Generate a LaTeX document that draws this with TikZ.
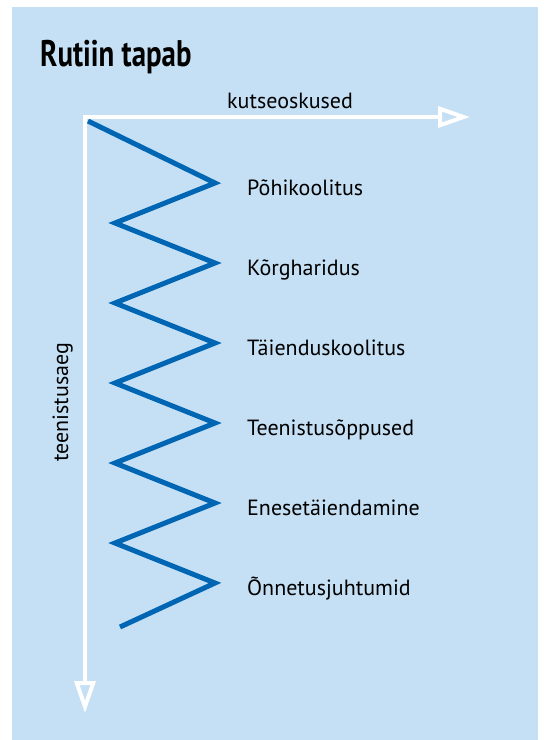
\documentclass[tikz,border=0pt]{standalone}
\usepackage{fontspec}
\setmainfont{PT Sans}
\usetikzlibrary{arrows.meta}
\definecolor{bgblue}{RGB}{197,224,244}
\definecolor{zigblue}{RGB}{0,102,179}
\tikzset{
  lbl/.style={anchor=base west, inner sep=0pt, font=\fontsize{22}{24}\selectfont, text=black},
  axis/.style={draw=white, line width=4, line join=miter,
    {Triangle[open, length=32, width=21]}-{Triangle[open, length=32, width=21]}},
  zig/.style={draw=zigblue, line width=5, line join=miter},
}
\begin{document}
\begin{tikzpicture}[x=1pt,y=-1pt]
\useasboundingbox (0,0) rectangle (544,740);
\fill[bgblue] (12,7) rectangle (538,740);
\node[anchor=base west, inner sep=0pt, font=\fontsize{37}{40}\selectfont\bfseries] (title) at (40,66) {\scalebox{0.78}[1]{Rutiin tapab}};
\coordinate (O) at (85,117);
\coordinate (X) at (470,117);
\coordinate (Y) at (85,713);
\draw[zig] (88,121) -- (215,183) -- (115,223) -- (215,263) -- (115,303) -- (215,343) -- (115,383) -- (215,423) -- (115,463) -- (215,503) -- (115,543) -- (215,583) -- (120,627);
\draw[axis] (X) -- (O) -- (Y);
\node[lbl] (kut) at (227,108) {kutseoskused};
\node[lbl, rotate=90] (tee) at (68,462) {teenistusaeg};
\node[lbl] (l1) at (247,195) {Põhikoolitus};
\node[lbl] (l2) at (247,275) {Kõrgharidus};
\node[lbl] (l3) at (247,355) {Täienduskoolitus};
\node[lbl] (l4) at (247,435) {Teenistusõppused};
\node[lbl] (l5) at (247,515) {Enesetäiendamine};
\node[lbl] (l6) at (247,595) {Õnnetusjuhtumid};
\end{tikzpicture}
\end{document}
